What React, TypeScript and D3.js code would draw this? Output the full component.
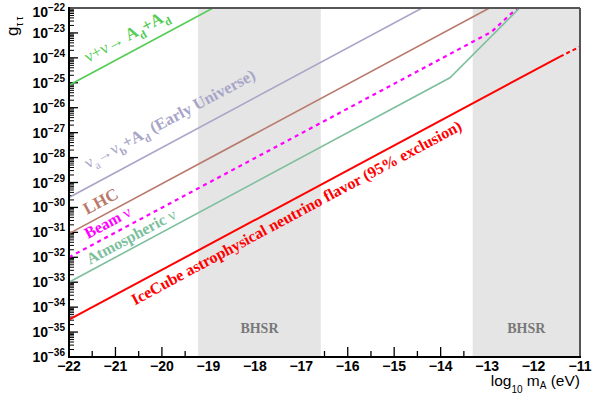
import React from 'react'
import * as d3 from 'd3'

// axis values (log10 scale, both axes)
const massTicks = [-22, -21, -20, -19, -18, -17, -16, -15, -14, -13, -12, -11]
const couplingTicks = [-22, -23, -24, -25, -26, -27, -28, -29, -30, -31, -32, -33, -34, -35, -36]
const bhsrRanges = [[-19.22, -16.58], [-13.31, -11]]

// exclusion curves: log10 m_A vs log10 g
const nuNuMass = [-22, -18.9]
const nuNuCoupling = [-25.1, -22.0]
const earlyMass = [-22, -14.4]
const earlyCoupling = [-29.6, -22.0]
const lhcMass = [-22, -12.95]
const lhcCoupling = [-31.05, -22.0]
const beamMass = [-22, -12.9, -12.35]
const beamCoupling = [-32.0, -22.95, -22.0]
const atmoMass = [-22, -13.8, -12.3]
const atmoCoupling = [-33.0, -24.8, -22.0]
const iceMass = [-22, -11.43]
const iceCoupling = [-34.5, -23.95]
const iceExtMass = [-11.43, -11]
const iceExtCoupling = [-23.95, -23.55]

const W = 592
const H = 404
const left = 69, right = 580, top = 8, bottom = 357

const x = d3.scaleLinear().domain([-22, -11]).range([left, right])
const y = d3.scaleLinear().domain([-36, -22]).range([bottom, top])

const pts = (ms: number[], gs: number[]) => ms.map((m, i) => [m, gs[i]] as [number, number])

const series = [
  { d: pts(nuNuMass, nuNuCoupling), color: '#55cc55', w: 1.6, dash: null },
  { d: pts(earlyMass, earlyCoupling), color: '#a8a5c8', w: 1.6, dash: null },
  { d: pts(lhcMass, lhcCoupling), color: '#b9796d', w: 1.6, dash: null },
  { d: pts(beamMass, beamCoupling), color: '#ff00ff', w: 2.2, dash: '4,4' },
  { d: pts(atmoMass, atmoCoupling), color: '#7dbf9d', w: 1.6, dash: null },
  { d: pts(iceMass, iceCoupling), color: '#ff0000', w: 2, dash: null },
  { d: pts(iceExtMass, iceExtCoupling), color: '#ff0000', w: 2, dash: '4,3' },
]

type Part = { t: string, sub?: boolean, thin?: boolean }
const labels: { parts: Part[], m: number, g: number, color: string, size: number }[] = [
  { parts: [{ t: 'ν+ν→ ', thin: true }, { t: 'A' }, { t: 'd', sub: true }, { t: '+A' }, { t: 'd', sub: true }], m: -21.59, g: -24.2, color: '#55cc55', size: 17 },
  { parts: [{ t: 'ν', thin: true }, { t: 'a', sub: true, thin: true }, { t: '→ν', thin: true }, { t: 'b', sub: true }, { t: '+A' }, { t: 'd', sub: true }, { t: ' (Early Universe)' }], m: -21.59, g: -28.45, color: '#a8a5c8', size: 16.5 },
  { parts: [{ t: 'LHC' }], m: -21.61, g: -30.3, color: '#b9796d', size: 17 },
  { parts: [{ t: 'Beam  ' }, { t: 'ν', thin: true }], m: -21.59, g: -31.27, color: '#ff00ff', size: 16 },
  { parts: [{ t: 'Atmospheric  ' }, { t: 'ν', thin: true }], m: -21.55, g: -32.3, color: '#7dbf9d', size: 16 },
  { parts: [{ t: 'IceCube astrophysical neutrino flavor (95% exclusion)' }], m: -20.58, g: -33.93, color: '#ff0000', size: 16 },
]

const minus = (v: number) => (v < 0 ? '\u2212' + Math.abs(v) : String(v))

const App = () => {
  const line = d3.line<[number, number]>().x(d => x(d[0])).y(d => y(d[1]))
  const angle = -Math.atan((y(-30) - y(-29)) / (x(-21) - x(-22))) * 180 / Math.PI

  const minorY: number[] = []
  couplingTicks.slice(1).forEach(e => {
    for (let k = 2; k < 10; k++) minorY.push(e + Math.log10(k))
  })
  const minorX = massTicks.slice(0, -1).map(m => m + 0.5)

  const renderParts = (parts: Part[], size: number) => {
    let shift = 0
    return parts.map((p, i) => {
      const target = p.sub ? size * 0.3 : 0
      const dy = target - shift
      shift = target
      return (
        <tspan key={i} dy={dy} fontSize={p.sub ? size * 0.68 : size} fontWeight={p.thin ? 'normal' : 'bold'}>{p.t}</tspan>
      )
    })
  }

  return (
    <svg width={W} height={H} style={{ position: 'absolute', left: 0, top: 0, background: '#fff' }}>
      <defs>
        <clipPath id="plot"><rect x={left} y={top} width={right - left} height={bottom - top} /></clipPath>
      </defs>
      <rect x={0} y={0} width={W} height={H} fill="#fff" />

      {/* ticks */}
      {couplingTicks.map(g => <line key={'my' + g} x1={left} x2={left + 9} y1={y(g)} y2={y(g)} stroke="#000" strokeWidth={1.3} />)}
      {minorY.map((g, i) => <line key={'ny' + i} x1={left} x2={left + 5} y1={y(g)} y2={y(g)} stroke="#000" strokeWidth={1} />)}
      {massTicks.map(m => <line key={'mx' + m} x1={x(m)} x2={x(m)} y1={bottom} y2={bottom - 10} stroke="#000" strokeWidth={1.3} />)}
      {minorX.map(m => <line key={'nx' + m} x1={x(m)} x2={x(m)} y1={bottom} y2={bottom - 6} stroke="#000" strokeWidth={1.3} />)}

      {/* BHSR bands */}
      {bhsrRanges.map((r, i) => (
        <g key={'b' + i}>
          <rect x={x(r[0])} y={top} width={x(r[1]) - x(r[0])} height={bottom - top} fill="#e5e5e5" />
          <text x={(x(r[0]) + x(r[1])) / 2} y={y(-35.05)} textAnchor="middle" fontFamily="'Liberation Serif', serif" fontWeight="bold" fontSize={14} fill="#787878">BHSR</text>
        </g>
      ))}

      <g clipPath="url(#plot)">
        {series.map((s, i) => (
          <path key={i} d={line(s.d) || ''} fill="none" stroke={s.color} strokeWidth={s.w} strokeDasharray={s.dash || undefined} />
        ))}
      </g>

      {labels.map((l, i) => (
        <text key={i} transform={`translate(${x(l.m)},${y(l.g)}) rotate(${angle})`} fill={l.color} fontFamily="'Liberation Serif', serif" fontSize={l.size}>
          {renderParts(l.parts, l.size)}
        </text>
      ))}

      {/* frame */}
      <line x1={left} x2={right} y1={top} y2={top} stroke="#555" strokeWidth={2} />
      <line x1={right} x2={right} y1={top} y2={bottom} stroke="#555" strokeWidth={2} />
      <line x1={left} x2={left} y1={top - 1} y2={bottom + 1} stroke="#000" strokeWidth={2} />
      <line x1={left - 1} x2={right + 1} y1={bottom} y2={bottom} stroke="#000" strokeWidth={2} />

      {/* tick labels */}
      {massTicks.map(m => (
        <text key={'lx' + m} x={x(m)} y={371} textAnchor="middle" fontFamily="'Liberation Sans', Arial, sans-serif" fontWeight="bold" fontSize={14}>{minus(m)}</text>
      ))}
      {couplingTicks.map(g => (
        <text key={'ly' + g} x={65} y={Math.max(y(g) + 5, 17)} textAnchor="end" fontFamily="'Liberation Sans', Arial, sans-serif" fontWeight="bold" fontSize={14}>
          10<tspan dy={-6} fontSize={10}>{minus(g)}</tspan>
        </text>
      ))}

      {/* axis titles */}
      <text x={580} y={386} textAnchor="end" fontFamily="'Liberation Sans', Arial, sans-serif" fontSize={15.5}>
        log<tspan dy={7} fontSize={10}>10</tspan><tspan dy={-7}> m</tspan><tspan dy={3} fontSize={10}>A</tspan><tspan dy={-3}> (eV)</tspan>
      </text>
      <text transform="translate(18,36) rotate(-90)" fontFamily="'Liberation Sans', Arial, sans-serif" fontSize={17}>
        g<tspan dy={5} fontSize={10}>τ</tspan><tspan dx={2} fontSize={10}>τ</tspan>
      </text>
    </svg>
  )
}

export default App
